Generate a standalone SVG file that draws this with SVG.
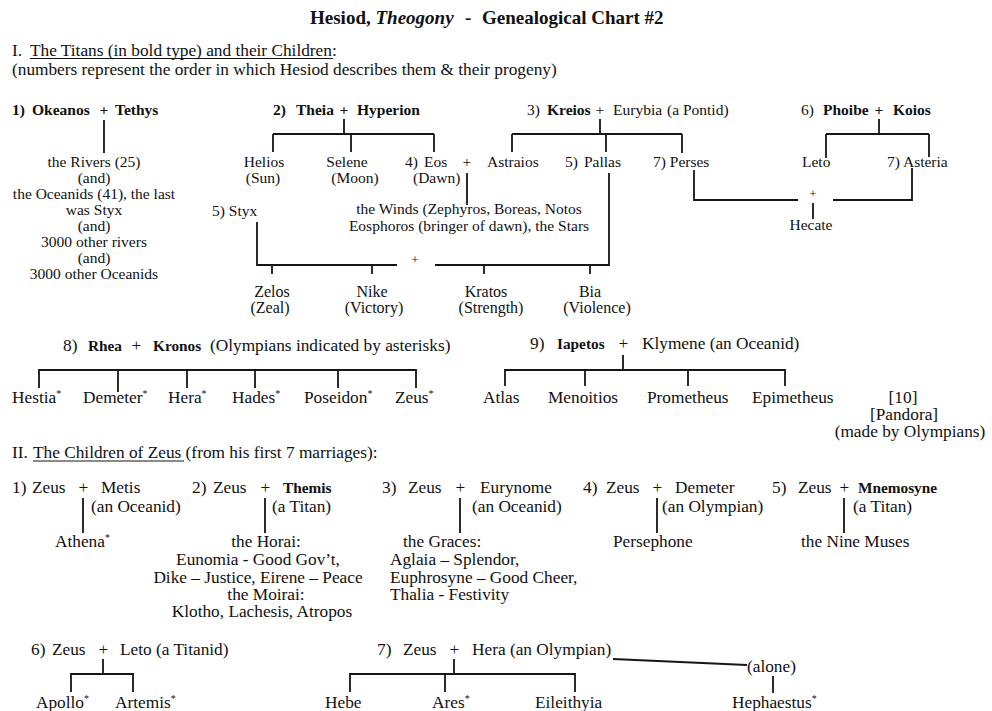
<svg xmlns="http://www.w3.org/2000/svg" width="992" height="711" viewBox="0 0 992 711">
<style>
text{font-family:"Liberation Serif","DejaVu Serif",serif;fill:#111;}
.s1{font-size:15.5px;}
.s2{font-size:16px;}
.s3{font-size:17.3px;}
.h{font-size:17.3px;}
.b{font-weight:bold;}
.bb{font-weight:bold;font-size:15.3px;}
.m{text-anchor:middle;}
.ast{font-size:10px;}
.pl{font-size:13px;}
.c line,.c path{stroke:#161616;stroke-width:1.8;fill:none;}
.u{stroke:#161616;stroke-width:1.2;}
</style>
<rect width="992" height="711" fill="#fff"/>

<g id="title">
<text x="310" y="24" style="font-size:19px" class="b">Hesiod, <tspan font-style="italic">Theogony</tspan><tspan x="465">-</tspan><tspan x="482">Genealogical Chart #2</tspan></text>
</g>

<g id="section1">
<text x="12" y="56" class="h">I.<tspan x="30">The Titans (in bold type) and their Children</tspan>:</text>
<line class="u" x1="30" y1="58.5" x2="333" y2="58.5"/>
<text x="12" y="75" class="h">(numbers represent the order in which Hesiod describes them &amp; their progeny)</text>
</g>

<g id="okeanos-tethys">
<text y="115" class="s1 b"><tspan x="12">1)</tspan><tspan x="32">Okeanos</tspan><tspan x="99.6">+</tspan><tspan x="115">Tethys</tspan></text>
</g>
<g id="okeanos-children">
<text class="s1 m" x="94" y="167">the Rivers (25)</text>
<text class="s1 m" x="94" y="183">(and)</text>
<text class="s1 m" x="94" y="199">the Oceanids (41), the last</text>
<text class="s1 m" x="94" y="215">was Styx</text>
<text class="s1 m" x="94" y="231">(and)</text>
<text class="s1 m" x="94" y="247">3000 other rivers</text>
<text class="s1 m" x="94" y="263">(and)</text>
<text class="s1 m" x="94" y="279">3000 other Oceanids</text>
</g>

<g id="theia-hyperion">
<text y="115" class="s1 b"><tspan x="273">2)</tspan><tspan x="296">Theia</tspan><tspan x="339.6">+</tspan><tspan x="357">Hyperion</tspan></text>
</g>
<g id="helios"><text class="s1 m" x="264" y="167">Helios</text><text class="s1 m" x="263" y="183">(Sun)</text></g>
<g id="selene"><text class="s1 m" x="347" y="167">Selene</text><text class="s1 m" x="355" y="183">(Moon)</text></g>
<g id="eos"><text class="s1" x="405" y="167">4)<tspan x="424">Eos</tspan></text><text class="s1" x="413" y="183">(Dawn)</text></g>
<g id="eos-plus"><text class="s1" x="462.6" y="167">+</text></g>
<g id="astraios"><text class="s1" x="487" y="167">Astraios</text></g>
<g id="winds">
<text class="s1 m" x="469" y="214">the Winds (Zephyros, Boreas, Notos</text>
<text class="s1 m" x="469" y="231">Eosphoros (bringer of dawn), the Stars</text>
</g>

<g id="kreios-eurybia">
<text y="115" class="s1"><tspan x="527">3)</tspan><tspan x="547" class="b">Kreios</tspan><tspan x="595.6">+</tspan><tspan x="613">Eurybia</tspan><tspan x="667">(a Pontid)</tspan></text>
</g>
<g id="pallas"><text class="s1" x="565" y="167">5)<tspan x="584">Pallas</tspan></text></g>
<g id="perses"><text class="s1" x="653" y="167">7) Perses</text></g>

<g id="phoibe-koios">
<text y="115" class="s1"><tspan x="801">6)</tspan><tspan x="823" class="b">Phoibe</tspan><tspan x="874.6" class="b">+</tspan><tspan x="893" class="b">Koios</tspan></text>
</g>
<g id="leto"><text class="s1" x="802" y="167">Leto</text></g>
<g id="asteria"><text class="s1" x="887" y="167">7) Asteria</text></g>
<g id="hecate"><text class="pl m" x="813" y="198">+</text><text class="s1 m" x="811" y="230">Hecate</text></g>

<g id="styx"><text class="s1" x="212" y="216">5) Styx</text><text class="pl m" x="415" y="264">+</text></g>
<g id="zelos"><text class="s2 m" x="272" y="297">Zelos</text><text class="s2 m" x="270" y="313">(Zeal)</text></g>
<g id="nike"><text class="s2 m" x="372" y="297">Nike</text><text class="s2 m" x="374" y="313">(Victory)</text></g>
<g id="kratos"><text class="s2 m" x="486" y="297">Kratos</text><text class="s2 m" x="491" y="313">(Strength)</text></g>
<g id="bia"><text class="s2 m" x="590" y="297">Bia</text><text class="s2 m" x="597" y="313">(Violence)</text></g>

<g id="rhea-kronos">
<text y="351" class="s3"><tspan x="63">8)</tspan><tspan x="88" class="bb">Rhea</tspan><tspan x="131.5">+</tspan><tspan x="153" class="bb">Kronos</tspan><tspan x="210">(Olympians indicated by asterisks)</tspan></text>
</g>
<g id="hestia"><text class="s3" x="12" y="403">Hestia<tspan class="ast" dy="-6">*</tspan></text></g>
<g id="demeter"><text class="s3" x="83" y="403">Demeter<tspan class="ast" dy="-6">*</tspan></text></g>
<g id="hera"><text class="s3" x="168" y="403">Hera<tspan class="ast" dy="-6">*</tspan></text></g>
<g id="hades"><text class="s3" x="232" y="403">Hades<tspan class="ast" dy="-6">*</tspan></text></g>
<g id="poseidon"><text class="s3" x="304" y="403">Poseidon<tspan class="ast" dy="-6">*</tspan></text></g>
<g id="zeus"><text class="s3" x="395" y="403">Zeus<tspan class="ast" dy="-6">*</tspan></text></g>

<g id="iapetos-klymene">
<text y="349" class="s3"><tspan x="530">9)</tspan><tspan x="557" class="bb">Iapetos</tspan><tspan x="618.5">+</tspan><tspan x="642">Klymene (an Oceanid)</tspan></text>
</g>
<g id="atlas"><text class="s3" x="483" y="403">Atlas</text></g>
<g id="menoitios"><text class="s3" x="548" y="403">Menoitios</text></g>
<g id="prometheus"><text class="s3" x="647" y="403">Prometheus</text></g>
<g id="epimetheus"><text class="s3" x="752" y="403">Epimetheus</text></g>
<g id="pandora">
<text class="s3 m" x="903" y="403">[10]</text>
<text class="s3 m" x="904" y="420">[Pandora]</text>
<text class="s3 m" x="910" y="437">(made by Olympians)</text>
</g>

<g id="section2">
<text x="12" y="458" class="h">II.<tspan x="33">The Children of Zeus</tspan> (from his first 7 marriages):</text>
<line class="u" x1="33" y1="461" x2="184" y2="461"/>
</g>

<g id="zeus-metis">
<text y="493" class="s3"><tspan x="12">1)</tspan><tspan x="32">Zeus</tspan><tspan x="78.5">+</tspan><tspan x="101">Metis</tspan></text>
<text x="91" y="512" class="s3">(an Oceanid)</text>
</g>
<g id="athena"><text class="s3" x="55" y="547">Athena<tspan class="ast" dy="-6">*</tspan></text></g>

<g id="zeus-themis">
<text y="493" class="s3"><tspan x="192">2)</tspan><tspan x="213">Zeus</tspan><tspan x="260.5">+</tspan><tspan x="283" class="bb">Themis</tspan></text>
<text x="272" y="512" class="s3">(a Titan)</text>
</g>
<g id="horai-moirai">
<text class="s3 m" x="266" y="547">the Horai:</text>
<text class="s3 m" x="258" y="565">Eunomia - Good Gov’t,</text>
<text class="s3 m" x="258" y="583">Dike – Justice, Eirene – Peace</text>
<text class="s3 m" x="266" y="600">the Moirai:</text>
<text class="s3 m" x="262" y="617">Klotho, Lachesis, Atropos</text>
</g>

<g id="zeus-eurynome">
<text y="493" class="s3"><tspan x="382">3)</tspan><tspan x="408">Zeus</tspan><tspan x="455.5">+</tspan><tspan x="480">Eurynome</tspan></text>
<text x="472" y="512" class="s3">(an Oceanid)</text>
</g>
<g id="graces">
<text class="s3" x="403" y="547">the Graces:</text>
<text class="s3" x="390" y="565">Aglaia – Splendor,</text>
<text class="s3" x="390" y="583">Euphrosyne – Good Cheer,</text>
<text class="s3" x="390" y="600">Thalia - Festivity</text>
</g>

<g id="zeus-demeter">
<text y="493" class="s3"><tspan x="583">4)</tspan><tspan x="606">Zeus</tspan><tspan x="652.5">+</tspan><tspan x="675">Demeter</tspan></text>
<text x="662" y="512" class="s3">(an Olympian)</text>
</g>
<g id="persephone"><text class="s3" x="613" y="547">Persephone</text></g>

<g id="zeus-mnemosyne">
<text y="493" class="s3"><tspan x="772">5)</tspan><tspan x="798">Zeus</tspan><tspan x="839.5">+</tspan><tspan x="858" class="bb">Mnemosyne</tspan></text>
<text x="853" y="512" class="s3">(a Titan)</text>
</g>
<g id="muses"><text class="s3" x="801" y="547">the Nine Muses</text></g>

<g id="zeus-leto">
<text y="655" class="s3"><tspan x="31">6)</tspan><tspan x="52">Zeus</tspan><tspan x="98.5">+</tspan><tspan x="120">Leto (a Titanid)</tspan></text>
</g>
<g id="apollo"><text class="s3" x="36" y="708">Apollo<tspan class="ast" dy="-6">*</tspan></text></g>
<g id="artemis"><text class="s3" x="115" y="708">Artemis<tspan class="ast" dy="-6">*</tspan></text></g>

<g id="zeus-hera">
<text y="655" class="s3"><tspan x="377">7)</tspan><tspan x="403">Zeus</tspan><tspan x="449.5">+</tspan><tspan x="472">Hera (an Olympian)</tspan></text>
</g>
<g id="hebe"><text class="s3" x="325" y="708">Hebe</text></g>
<g id="ares"><text class="s3" x="432" y="708">Ares<tspan class="ast" dy="-6">*</tspan></text></g>
<g id="eileithyia"><text class="s3" x="535" y="708">Eileithyia</text></g>
<g id="alone"><text class="s3" x="747" y="672">(alone)</text></g>
<g id="hephaestus"><text class="s3" x="732" y="708">Hephaestus<tspan class="ast" dy="-6">*</tspan></text></g>

<g id="connectors" class="c">
<path d="M104 120V153"/>
<path d="M344 119V134M273 134H434M273 134V152M351 134V152M434 134V152"/>
<path d="M467 173V205"/>
<path d="M600 119V134M512 134H682M512 134V152M606 134V152M682 134V153"/>
<path d="M879 119V134M826 134H929M826 134V158M929 134V157"/>
<path d="M694 170V200H798M833 200H912V168M813 203V219"/>
<path d="M257 222V265H397M435 265H609V173M272 265V274M372 265V274M484 265V274M590 265V274"/>
<path d="M39 388V370H416V388M118 370V392M187 370V388M255 370V388M338 370V388"/>
<path d="M623 355V370M505 386V370H785V386M585 370V386M688 370V386"/>
<path d="M83 498V533M265 498V533M460 498V533M657 498V533M844 498V533"/>
<path d="M103 659V674M71 692V674H133V692"/>
<path d="M454 659V674M350 692V674H575V692M445 674V692"/>
<path d="M613 659L747 665M773 676V693"/>
</g>
</svg>
